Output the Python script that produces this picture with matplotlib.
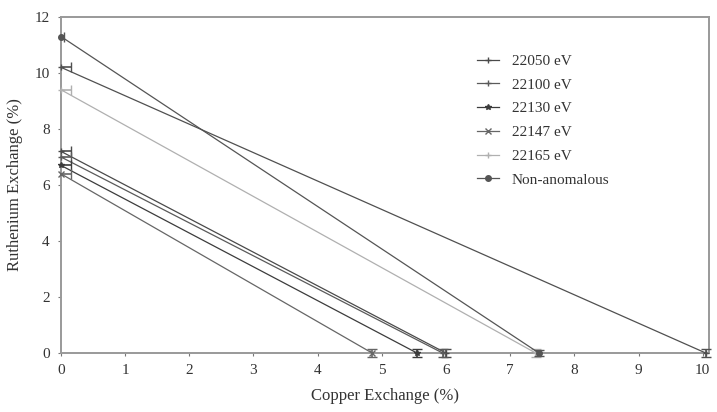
import numpy as np
import matplotlib.pyplot as plt

plt.rcParams['font.family'] = ['Liberation Serif', 'DejaVu Serif']

# series: labels, y-intercept (Ru exchange at Cu=0), x-intercept (Cu exchange at Ru=0)
labels = ['22050 eV', '22100 eV', '22130 eV', '22147 eV', '22165 eV', 'Non-anomalous', None]
ru0 = [7.2, 7.0, 6.7, 6.4, 9.4, 11.3, 10.2]
cu0 = [6.0, 5.95, 5.55, 4.85, 7.4, 7.45, 10.05]
ru_err = [0.15, 0.15, 0.15, 0.15, 0.15, 0.1, 0.15]
cu_err = [0.15, 0.15, 0.15, 0.15, 0.15, 0.05, 0.15]
colors = ['#4a4a4a', '#5a5a5a', '#3c3c3c', '#666666', '#b0b0b0', '#555555', '#505050']
markers = ['+', '+', '*', 'x', '+', 'o', '+']

fig = plt.figure(figsize=(7.17, 4.12), dpi=100)
ax = fig.add_axes([0.085, 0.143, 0.904, 0.816])

for lab, y0, x0, ye, xe, c, m in zip(labels, ru0, cu0, ru_err, cu_err, colors, markers):
    ax.plot([0, x0], [y0, 0], color=c, lw=0.9, marker=m, ms=4, label=lab,
            zorder=3, clip_on=False)
    # horizontal bar on the Ru axis (clipped at the axis like the original)
    ax.errorbar([0], [y0], xerr=[xe], fmt='none', ecolor=c, elinewidth=1.2,
                capsize=3.5, zorder=3)
    # vertical bar on the Cu axis
    eb = ax.errorbar([x0], [0], yerr=[ye], fmt='none', ecolor=c, elinewidth=1.2,
                     capsize=3.5, zorder=3)
    for art in eb.lines[1] + eb.lines[2]:
        art.set_clip_on(False)

ax.set_xlim(0, 10.1)
ax.set_ylim(0, 12)
ax.set_xticks(np.arange(0, 11, 1))
ax.set_yticks(np.arange(0, 13, 2))
ax.tick_params(length=2, color='#777777', labelsize=11, labelcolor='#333333', pad=6)
for s in ax.spines.values():
    s.set_color('#999999')
    s.set_linewidth(1.4)
ax.set_xlabel('Copper Exchange (%)', fontsize=12, color='#333333', labelpad=8)
ax.set_ylabel('Ruthenium Exchange (%)', fontsize=12, color='#333333', labelpad=8)

leg = ax.legend(loc='upper left', bbox_to_anchor=(0.62, 0.93), frameon=False,
                fontsize=11, handlelength=1.5, labelspacing=0.66, labelcolor='#333333')

plt.savefig('out.png', dpi=100)
